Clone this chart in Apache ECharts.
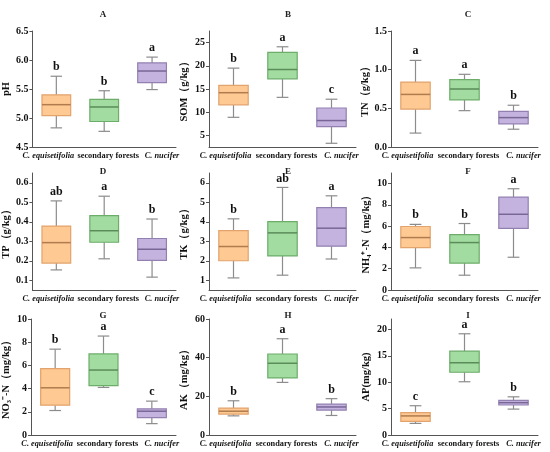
<!DOCTYPE html>
<html>
<head>
<meta charset="utf-8">
<style>
  html, body { margin: 0; padding: 0; background: #fff; }
  #chart { width: 550px; height: 452px; }
</style>
<script src="https://cdn.jsdelivr.net/npm/echarts@6/dist/echarts.min.js"></script>
</head>
<body>
<div id="chart"></div>
<script>
'use strict';

// categories shared by all nine panels
const categories = ['C. equisetifolia', 'secondary forests', 'C. nucifer'];

// each row: [low, q1, median, q3, high] per category
const phBox  = [[4.83, 5.04, 5.23, 5.40, 5.72], [4.77, 4.94, 5.19, 5.32, 5.47], [5.49, 5.61, 5.81, 5.95, 6.05]];
const somBox = [[8.9, 11.6, 14.2, 15.8, 19.5], [13.2, 17.2, 19.2, 22.9, 24.1], [3.3, 6.9, 8.2, 10.9, 12.8]];
const tnBox  = [[0.18, 0.49, 0.68, 0.84, 1.12], [0.47, 0.61, 0.75, 0.87, 0.94], [0.23, 0.30, 0.38, 0.46, 0.54]];
const tpBox  = [[0.153, 0.188, 0.293, 0.378, 0.507], [0.21, 0.295, 0.354, 0.431, 0.531], [0.116, 0.202, 0.259, 0.314, 0.414]];
const tkBox  = [[1.12, 2.0, 2.73, 3.55, 4.15], [1.26, 2.25, 3.43, 4.01, 5.76], [2.09, 2.75, 3.67, 4.72, 5.33]];
const nhBox  = [[2.08, 3.98, 4.93, 5.97, 6.17], [1.39, 2.53, 4.46, 5.2, 6.25], [3.08, 5.79, 7.12, 8.73, 9.52]];
const noBox  = [[2.11, 2.57, 4.07, 5.72, 7.40], [4.1, 4.25, 5.6, 6.99, 8.53], [0.98, 1.5, 2.05, 2.25, 2.92]];
const akBox  = [[9.9, 10.8, 12.3, 13.9, 17.7], [27.2, 29.5, 37.1, 41.9, 49.8], [10.1, 12.9, 14.5, 16.0, 18.8]];
const apBox  = [[2.2, 2.59, 3.62, 4.26, 5.55], [10.1, 11.9, 13.7, 15.9, 19.2], [4.91, 5.69, 6.13, 6.58, 7.24]];

// significance letters per panel
const phSig  = ['b', 'b', 'a'];
const somSig = ['b', 'a', 'c'];
const tnSig  = ['a', 'a', 'b'];
const tpSig  = ['ab', 'a', 'b'];
const tkSig  = ['b', 'ab', 'a'];
const nhSig  = ['b', 'b', 'a'];
const noSig  = ['b', 'a', 'c'];
const akSig  = ['b', 'a', 'b'];
const apSig  = ['c', 'a', 'b'];

const panelTitles = ['A', 'B', 'C', 'D', 'E', 'F', 'G', 'H', 'I'];
const yNames = ['pH', 'SOM（g/kg）', 'TN（g/kg）', 'TP（g/kg）', 'TK（g/kg）',
  'NH₄⁺-N（mg/kg）', 'NO₃⁻-N（mg/kg）', 'AK（mg/kg）', 'AP(mg/kg)'];
const boxes = [phBox, somBox, tnBox, tpBox, tkBox, nhBox, noBox, akBox, apBox];
const sigs = [phSig, somSig, tnSig, tpSig, tkSig, nhSig, noSig, akSig, apSig];

// [min, max, interval, decimals]; interval null lets echarts pick nice ticks
const yRanges = [
  [4.5, 6.5, 0.5, 1], [2.5, 27.5, null, 0], [0, 1.5, 0.5, 1],
  [0.05, 0.65, null, 1], [0.5, 6.5, null, 0], [0, 11, 2, 0],
  [0, 10, 2, 0], [0, 60, 20, 0], [0, 22, 5, 0]
];
const ySplit = [4, 5, 3, 6, 6, 5, 5, 3, 4];
// whether the end labels of each axis land on a real tick
const showMin = [true, false, true, false, false, true, true, true, true];
const showMax = [true, false, true, false, false, false, true, true, false];

const FONT = '"Liberation Serif", "Times New Roman", serif';
const fills = ['#FFC994', '#A3DCA0', '#C5B3DF'];
const borders = ['#E2A36C', '#6CAD6A', '#9280B1'];
const medians = ['#B07C4E', '#5A8C59', '#786796'];
const whiskerColor = '#8c8c8c';

// layout of the 3x3 grid
const colLeft = [29, 209, 391];
const colTitle = [98, 283, 463];
const rowTop = [31, 173, 319];
const rowHeight = [116, 117, 116];
const rowTitleTop = [5, 162, 306];
const gridWidth = 147;

function renderBox(params, api) {
  const cat = api.value(0);
  const low = api.coord([cat, api.value(1)]);
  const q1 = api.coord([cat, api.value(2)]);
  const med = api.coord([cat, api.value(3)]);
  const q3 = api.coord([cat, api.value(4)]);
  const high = api.coord([cat, api.value(5)]);
  const band = api.size([1, 0])[0];
  const half = band * 0.3;
  const cap = band * 0.12;
  const x = low[0];
  const wStyle = { stroke: whiskerColor, lineWidth: 1.2 };
  const letter = sigs[params.seriesIndex][params.dataIndex];
  return {
    type: 'group',
    children: [
      { type: 'line', shape: { x1: x, y1: high[1], x2: x, y2: q3[1] }, style: wStyle },
      { type: 'line', shape: { x1: x, y1: q1[1], x2: x, y2: low[1] }, style: wStyle },
      { type: 'line', shape: { x1: x - cap, y1: high[1], x2: x + cap, y2: high[1] }, style: wStyle },
      { type: 'line', shape: { x1: x - cap, y1: low[1], x2: x + cap, y2: low[1] }, style: wStyle },
      {
        type: 'rect',
        shape: { x: x - half, y: q3[1], width: half * 2, height: q1[1] - q3[1] },
        style: { fill: fills[cat], stroke: borders[cat], lineWidth: 1.2 }
      },
      {
        type: 'line',
        shape: { x1: x - half, y1: med[1], x2: x + half, y2: med[1] },
        style: { stroke: medians[cat], lineWidth: 1.5 }
      },
      {
        type: 'text',
        style: {
          x: x, y: high[1] - 3, text: letter,
          fill: '#111', font: 'bold 12px ' + FONT,
          align: 'center', verticalAlign: 'bottom'
        }
      }
    ]
  };
}

// category labels sit a little off their ticks, as in the source figure
const labelKey = { 'C. equisetifolia': 'e', 'secondary forests': 's', 'C. nucifer': 'n' };
const labelFont = { fontFamily: FONT, fontWeight: 'bold', fontSize: 8.3, color: '#111' };

const grids = [], xAxes = [], yAxes = [], series = [], titles = [];
for (let i = 0; i < 9; i++) {
  const r = Math.floor(i / 3), c = i % 3;
  const yr = yRanges[i];
  grids.push({ left: colLeft[c], top: rowTop[r], width: gridWidth, height: rowHeight[r] });
  titles.push({
    text: panelTitles[i], left: colTitle[c], top: rowTitleTop[r], textAlign: 'center',
    textStyle: { fontFamily: FONT, fontWeight: 'bold', fontSize: 9, color: '#222' }
  });
  xAxes.push({
    type: 'category', gridIndex: i, data: categories,
    axisLine: { lineStyle: { color: '#555' } },
    axisTick: { alignWithLabel: true, length: 3, lineStyle: { color: '#555' } },
    axisLabel: {
      interval: 0, margin: 5, color: '#111', hideOverlap: false,
      formatter: v => '{' + labelKey[v] + '|' + v + '}',
      rich: {
        e: Object.assign({ fontStyle: 'italic', padding: [0, 16, 0, 0] }, labelFont),
        s: Object.assign({ padding: [0, 0, 0, 8] }, labelFont),
        n: Object.assign({ fontStyle: 'italic', padding: [0, 0, 0, 20] }, labelFont)
      }
    }
  });
  const yAxis = {
    type: 'value', gridIndex: i, min: yr[0], max: yr[1],
    name: yNames[i], nameLocation: 'middle', nameGap: 19,
    nameTextStyle: { fontFamily: FONT, fontWeight: 'bold', fontSize: 10.5, color: '#111' },
    axisLine: { show: true, lineStyle: { color: '#555' } },
    axisTick: { show: true, length: 3, lineStyle: { color: '#555' } },
    splitLine: { show: false },
    axisLabel: {
      margin: 4, color: '#111', fontFamily: FONT, fontWeight: 'bold', fontSize: 10,
      showMinLabel: showMin[i], showMaxLabel: showMax[i],
      formatter: v => v.toFixed(yr[3])
    }
  };
  if (yr[2] !== null) {
    yAxis.interval = yr[2];
  } else {
    yAxis.splitNumber = ySplit[i];
  }
  yAxes.push(yAxis);
  series.push({
    type: 'custom', xAxisIndex: i, yAxisIndex: i,
    renderItem: renderBox,
    encode: { x: 0, y: [1, 2, 3, 4, 5] },
    data: boxes[i].map((b, k) => [k].concat(b))
  });
}

const chart = echarts.init(document.getElementById('chart'), null, { renderer: 'canvas' });
chart.setOption({
  animation: false,
  title: titles,
  grid: grids,
  xAxis: xAxes,
  yAxis: yAxes,
  series: series
});
</script>
</body>
</html>
